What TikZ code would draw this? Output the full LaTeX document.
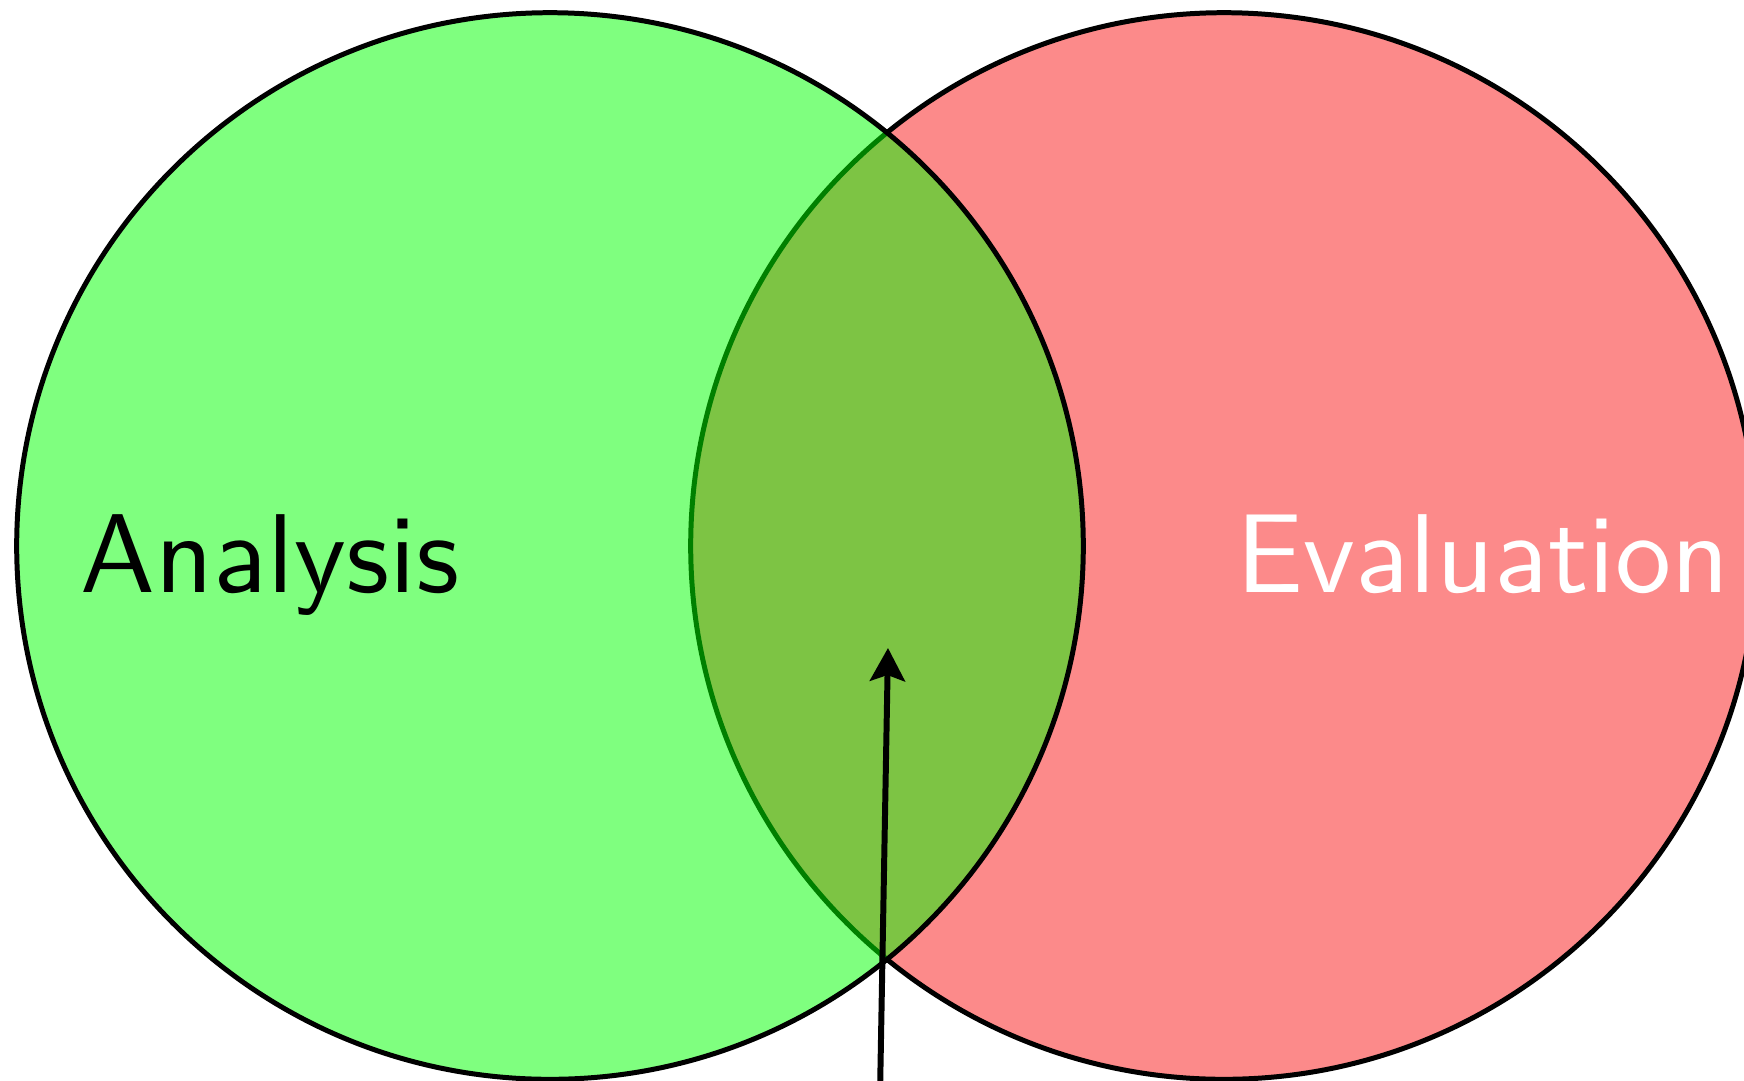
\documentclass[tikz,border=0pt]{standalone}
\usepackage{fontspec}
\newfontfamily\lmsa{lmsans10-regular}[Extension=.otf]
\usetikzlibrary{arrows.meta}
\definecolor{evalred}{RGB}{252,138,138}
\tikzset{
  setcircle/.style={circle, draw=black, line width=1.42pt, inner sep=0pt, minimum size=10.66cm},
  setlabel/.style={inner sep=0pt, anchor=base, font=\lmsa\fontsize{31.9pt}{38pt}\selectfont},
  pointer/.style={line width=1.7pt, -{Stealth[length=0.33cm, width=0.35cm, inset=0.06cm]}}
}
\begin{document}
\begin{tikzpicture}[x=0.01cm, y=-0.01cm]
\useasboundingbox (0,0) rectangle (1744,1081);
\node[setcircle, fill=evalred] (eval) at (1224,546) {};
\node[setcircle, fill=green, fill opacity=0.5, draw opacity=1] (anal) at (550,546) {};
\node[setlabel, text=black] (tanal) at (270,592) {Analysis};
\node[setlabel, text=white] (teval) at (1483,592) {Evaluation};
\coordinate (pstart) at (880,1095);
\coordinate (ptip) at (888,648);
\draw[pointer] (pstart) -- (ptip);
\end{tikzpicture}
\end{document}
